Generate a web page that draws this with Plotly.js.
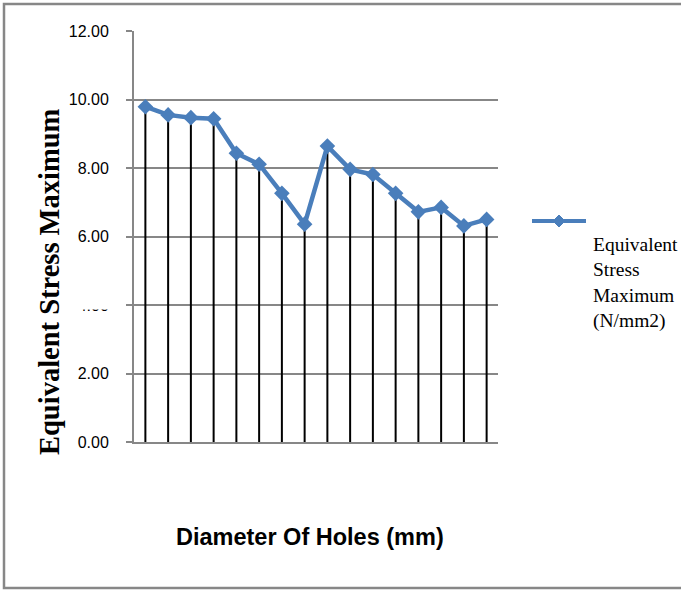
<!DOCTYPE html>
<html>
<head>
<meta charset="utf-8">
<script src="https://cdn.plot.ly/plotly-3.0.1.min.js"></script>
<style>
  html, body { margin: 0; padding: 0; background: #ffffff; }
  #chart { width: 681px; height: 590px; }
</style>
</head>
<body>
<div id="chart"></div>
<script>
// Data
var holeIndex = ["1","2","3","4","5","6","7","8","9","10","11","12","13","14","15","16"];
var stressMax = [9.79, 9.55, 9.47, 9.44, 8.43, 8.11, 7.26, 6.36, 8.64, 7.96, 7.81, 7.26, 6.72, 6.85, 6.31, 6.50];
var yTickVals = [0, 2, 4, 6, 8, 10, 12];
var yTickText = ["0.00", "2.00", "4.00", "6.00", "8.00", "10.00", "12.00"];
var seriesName = "Equivalent<br>Stress<br>Maximum<br>(N/mm2)";
var xTitle = "Diameter Of Holes (mm)";
var yTitle = "Equivalent Stress Maximum";

var blue = "#4a7ebb";
var grey = "#878787";

var trace = {
  x: holeIndex,
  y: stressMax,
  type: "scatter",
  mode: "lines+markers",
  line: { color: blue, width: 4.5 },
  marker: { symbol: "diamond", size: 12, color: blue },
  error_y: {
    type: "data",
    symmetric: false,
    array: stressMax.map(function () { return 0; }),
    arrayminus: stressMax,
    color: "#000000",
    thickness: 2,
    width: 0
  },
  showlegend: false,
  hoverinfo: "skip"
};

var L = 134, PW = 364, T = 31, PH = 411;
function xp(px) { return (px - L) / PW; }
function yp(py) { return (T + PH - py) / PH; }

var layout = {
  width: 681,
  height: 590,
  margin: { l: L, r: 681 - L - PW, t: T, b: 590 - T - PH },
  paper_bgcolor: "#ffffff",
  plot_bgcolor: "#ffffff",
  showlegend: false,
  xaxis: {
    type: "category",
    range: [-0.5, 15.5],
    showticklabels: false,
    ticks: "",
    showgrid: false,
    zeroline: false,
    showline: true,
    linecolor: grey,
    linewidth: 2,
    fixedrange: true
  },
  yaxis: {
    range: [0, 12],
    tickvals: yTickVals,
    ticktext: yTickText,
    ticks: "outside",
    ticklen: 6,
    tickwidth: 2,
    tickcolor: grey,
    ticklabelstandoff: 14,
    tickfont: { family: "Liberation Sans, Arial, sans-serif", size: 16, color: "#000000" },
    showgrid: true,
    gridcolor: grey,
    gridwidth: 2,
    zeroline: false,
    showline: true,
    linecolor: grey,
    linewidth: 2,
    fixedrange: true
  },
  annotations: [
    {
      text: yTitle, xref: "paper", yref: "paper",
      x: xp(49), y: yp(282), xanchor: "center", yanchor: "middle",
      textangle: -90, showarrow: false,
      font: { family: "Liberation Serif, Times New Roman, serif", size: 28.5, color: "#000000", weight: "bold" }
    },
    {
      text: "<b>" + xTitle + "</b>", xref: "paper", yref: "paper",
      x: xp(310), y: yp(537), xanchor: "center", yanchor: "middle",
      showarrow: false,
      font: { family: "Liberation Sans, Arial, sans-serif", size: 23.5, color: "#000000" }
    },
    {
      text: seriesName, xref: "paper", yref: "paper",
      x: xp(591), y: yp(283), xanchor: "left", yanchor: "middle",
      align: "left", showarrow: false,
      font: { family: "Liberation Serif, Times New Roman, serif", size: 19.5, color: "#000000" }
    }
  ],
  shapes: [
    // outer chart frame
    {
      type: "rect", xref: "paper", yref: "paper",
      x0: xp(4), x1: xp(700), y0: yp(588), y1: yp(4),
      line: { color: grey, width: 2.5 }, fillcolor: "rgba(0,0,0,0)", layer: "below"
    },
    // legend line sample
    {
      type: "line", xref: "paper", yref: "paper",
      x0: xp(532), x1: xp(586), y0: yp(221), y1: yp(221),
      line: { color: blue, width: 4 }
    },
    // legend diamond
    {
      type: "path", xref: "paper", yref: "paper",
      xsizemode: "pixel", ysizemode: "pixel",
      xanchor: xp(559), yanchor: yp(221),
      path: "M -6 0 L 0 6 L 6 0 L 0 -6 Z",
      fillcolor: blue, line: { color: blue, width: 1 }
    },
    // the reference's 4.00 label is mostly hidden
    {
      type: "rect", xref: "paper", yref: "paper",
      x0: xp(60), x1: xp(118), y0: yp(309.5), y1: yp(295),
      fillcolor: "#ffffff", line: { width: 0 }, layer: "above"
    }
  ]
};

Plotly.newPlot("chart", [trace], layout, { displayModeBar: false, staticPlot: true });
</script>
</body>
</html>
